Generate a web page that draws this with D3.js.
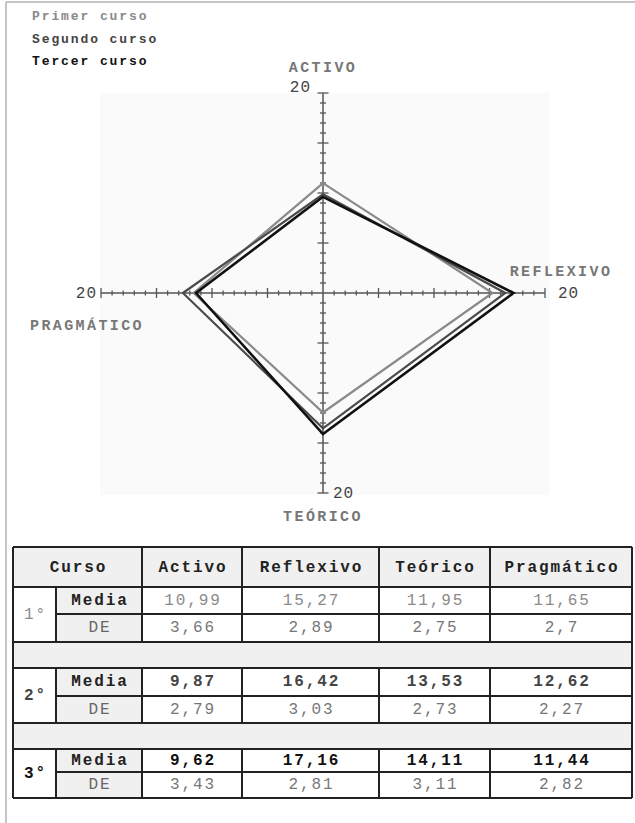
<!DOCTYPE html>
<html>
<head>
<meta charset="utf-8">
<script src="https://cdn.jsdelivr.net/npm/d3@7"></script>
<style>
  body { margin: 0; background: #fff; }
  svg { display: block; font-family: "Liberation Mono", "Courier New", monospace; }
</style>
</head>
<body>
<svg id="chart" width="635" height="823"></svg>
<script>
// Data
const ejes = ["ACTIVO", "REFLEXIVO", "TEÓRICO", "PRAGMÁTICO"];
const cursos = ["Primer curso", "Segundo curso", "Tercer curso"];
const cursosCortos = ["1°", "2°", "3°"];
const columnas = ["Activo", "Reflexivo", "Teórico", "Pragmático"];
const media1 = [10.99, 15.27, 11.95, 11.65];
const media2 = [9.87, 16.42, 13.53, 12.62];
const media3 = [9.62, 17.16, 14.11, 11.44];
const de1 = [3.66, 2.89, 2.75, 2.7];
const de2 = [2.79, 3.03, 2.73, 2.27];
const de3 = [3.43, 2.81, 3.11, 2.82];
const maxValor = 20;

const medias = [media1, media2, media3];
const des = [de1, de2, de3];

const colores = ["#8a8a8a", "#4a4a4a", "#111"];
const textoColores = ["#8a8a8a", "#444", "#111"];

const svg = d3.select("#chart");

// frame lines
svg.append("line").attr("x1", 6).attr("x2", 6).attr("y1", 2).attr("y2", 823)
  .attr("stroke", "#b0b0b0").attr("stroke-width", 1.5);
svg.append("line").attr("x1", 6).attr("x2", 635).attr("y1", 2).attr("y2", 2)
  .attr("stroke", "#b0b0b0").attr("stroke-width", 1.5);

// legend
svg.append("g").selectAll("text")
  .data(cursos)
  .join("text")
  .attr("x", 32)
  .attr("y", (d, i) => 20 + i * 22.5)
  .attr("fill", (d, i) => textoColores[i])
  .attr("font-size", 13)
  .attr("font-weight", "bold")
  .attr("letter-spacing", 1.9)
  .text(d => d);

// Radar
const cx = 323, cy = 293;
const rx = d3.scaleLinear([0, maxValor], [0, 222]);
const ry = d3.scaleLinear([0, maxValor], [0, 200]);

svg.append("rect")
  .attr("x", 100).attr("y", 93).attr("width", 450).attr("height", 402)
  .attr("fill", "#fafafa");

const g = svg.append("g").attr("transform", `translate(${cx},${cy})`);

// direction of each axis: activo up, reflexivo right, teorico down, pragmatico left
const dirs = [[0, -1], [1, 0], [0, 1], [-1, 0]];
const punto = (v, i) => [dirs[i][0] * rx(v), dirs[i][1] * ry(v)];

const ejeColor = "#555";
// axes lines
g.append("line").attr("x1", -rx(maxValor)).attr("x2", rx(maxValor)).attr("y1", 0).attr("y2", 0)
  .attr("stroke", ejeColor).attr("stroke-width", 1.5);
g.append("line").attr("y1", -ry(maxValor)).attr("y2", ry(maxValor)).attr("x1", 0).attr("x2", 0)
  .attr("stroke", ejeColor).attr("stroke-width", 1.5);

const ticks = rx.ticks(maxValor).filter(t => t > 0);
const tickLen = t => (t % 5 === 0 ? 5 : 2.5);
[1, -1].forEach(s => {
  g.append("g").selectAll("line")
    .data(ticks)
    .join("line")
    .attr("x1", t => s * rx(t)).attr("x2", t => s * rx(t))
    .attr("y1", t => -tickLen(t)).attr("y2", t => tickLen(t))
    .attr("stroke", ejeColor).attr("stroke-width", 1.3);
  g.append("g").selectAll("line")
    .data(ticks)
    .join("line")
    .attr("y1", t => s * ry(t)).attr("y2", t => s * ry(t))
    .attr("x1", t => -tickLen(t) - 0.5).attr("x2", t => tickLen(t) + 0.5)
    .attr("stroke", ejeColor).attr("stroke-width", 1.3);
});

// max labels "20"
const maxLab = [
  {x: -12, y: -ry(maxValor) - 1, anchor: "end"},
  {x: rx(maxValor) + 13, y: 5, anchor: "start"},
  {x: 10, y: ry(maxValor) + 5, anchor: "start"},
  {x: -rx(maxValor) - 4, y: 5, anchor: "end"}
];
g.append("g").selectAll("text")
  .data(maxLab)
  .join("text")
  .attr("x", d => d.x).attr("y", d => d.y)
  .attr("text-anchor", d => d.anchor)
  .attr("fill", "#444")
  .attr("font-size", 16)
  .attr("letter-spacing", 1)
  .text(maxValor);

// axis names
const ejePos = [
  {x: 0, y: -ry(maxValor) - 21, anchor: "middle"},
  {x: rx(maxValor) + 16, y: -17, anchor: "middle"},
  {x: 0, y: ry(maxValor) + 28, anchor: "middle"},
  {x: -rx(maxValor) - 71, y: 37, anchor: "start"}
];
g.append("g").selectAll("text")
  .data(ejes)
  .join("text")
  .attr("x", (d, i) => ejePos[i].x).attr("y", (d, i) => ejePos[i].y)
  .attr("text-anchor", (d, i) => ejePos[i].anchor)
  .attr("fill", "#777")
  .attr("font-size", 15)
  .attr("font-weight", "bold")
  .attr("letter-spacing", 2.4)
  .text(d => d);

// polygons
const linea = d3.line().curve(d3.curveLinearClosed);
g.append("g").selectAll("path")
  .data(medias)
  .join("path")
  .attr("d", m => linea(m.map(punto)))
  .attr("fill", "none")
  .attr("stroke", (d, i) => colores[i])
  .attr("stroke-width", (d, i) => i === 2 ? 2.6 : 2.2)
  .attr("stroke-linejoin", "miter");

// Table
const colX = [13, 56, 142, 242, 379, 490, 632];
const tablaTop = 547;
const filaAltos = [40, 27, 28, 26, 28, 27, 26, 23, 26];
const filaY = [tablaTop];
filaAltos.forEach(h => filaY.push(filaY[filaY.length - 1] + h));
const gris = "#f0f0f0";
const borde = "#222";
const tabla = svg.append("g");
const lineasTabla = svg.append("g");
const fmt = v => String(v).replace(".", ",");
const txt = (x, y, s, opts) => tabla.append("text")
  .attr("x", x + 1).attr("y", y).attr("text-anchor", "middle")
  .attr("dominant-baseline", "central")
  .attr("font-size", 16)
  .attr("letter-spacing", 1.9)
  .attr("fill", opts.fill)
  .attr("font-weight", opts.bold ? "bold" : "normal")
  .text(s);
const mid = (a, b) => (a + b) / 2;
const hline = (x1, x2, y) => lineasTabla.append("line").attr("x1", x1).attr("x2", x2)
  .attr("y1", y).attr("y2", y).attr("stroke", borde).attr("stroke-width", 2);
const vline = (x, y1, y2) => lineasTabla.append("line").attr("x1", x).attr("x2", x)
  .attr("y1", y1).attr("y2", y2).attr("stroke", borde).attr("stroke-width", 2);

// header
tabla.append("rect").attr("x", colX[0]).attr("y", filaY[0])
  .attr("width", colX[6] - colX[0]).attr("height", filaAltos[0]).attr("fill", gris);
txt(mid(colX[0], colX[2]), mid(filaY[0], filaY[1]) + 1, "Curso", {fill: "#222", bold: true});
columnas.forEach((c, j) => txt(mid(colX[j + 2], colX[j + 3]), mid(filaY[0], filaY[1]) + 1, c, {fill: "#222", bold: true}));
hline(colX[0], colX[6], filaY[0]);
hline(colX[0], colX[6], filaY[1]);
[2, 3, 4, 5].forEach(c => vline(colX[c], filaY[0], filaY[1]));

medias.forEach((m, k) => {
  const r0 = 1 + k * 3;
  const yA = filaY[r0], yB = filaY[r0 + 1], yC = filaY[r0 + 2];
  // label cells
  tabla.append("rect").attr("x", colX[1]).attr("y", yA)
    .attr("width", colX[2] - colX[1]).attr("height", yC - yA).attr("fill", gris);
  tabla.append("rect").attr("x", colX[0]).attr("y", yA)
    .attr("width", colX[1] - colX[0]).attr("height", yC - yA).attr("fill", "#fff");
  tabla.append("rect").attr("x", colX[2]).attr("y", yA)
    .attr("width", colX[6] - colX[2]).attr("height", yC - yA).attr("fill", "#fff");
  txt(mid(colX[0], colX[1]), mid(yA, yC), cursosCortos[k], {fill: textoColores[k], bold: k > 0});
  txt(mid(colX[1], colX[2]), mid(yA, yB), "Media", {fill: "#222", bold: true});
  txt(mid(colX[1], colX[2]), mid(yB, yC), "DE", {fill: "#666", bold: false});
  m.forEach((v, j) => txt(mid(colX[j + 2], colX[j + 3]), mid(yA, yB), fmt(v), {fill: textoColores[k], bold: k > 0}));
  des[k].forEach((v, j) => txt(mid(colX[j + 2], colX[j + 3]), mid(yB, yC), fmt(v), {fill: "#777", bold: false}));
  // spacer row
  if (k < 2) {
    tabla.append("rect").attr("x", colX[0]).attr("y", yC)
      .attr("width", colX[6] - colX[0]).attr("height", filaY[r0 + 3] - yC).attr("fill", gris);
    hline(colX[0], colX[6], filaY[r0 + 3]);
  }
  hline(colX[0], colX[6], yC);
  hline(colX[1], colX[6], yB);
  [1, 2, 3, 4, 5].forEach(c => vline(colX[c], yA, yC));
});

// outer sides
[0, 6].forEach(c => vline(colX[c], filaY[0], filaY[filaY.length - 1]));
</script>
</body>
</html>
